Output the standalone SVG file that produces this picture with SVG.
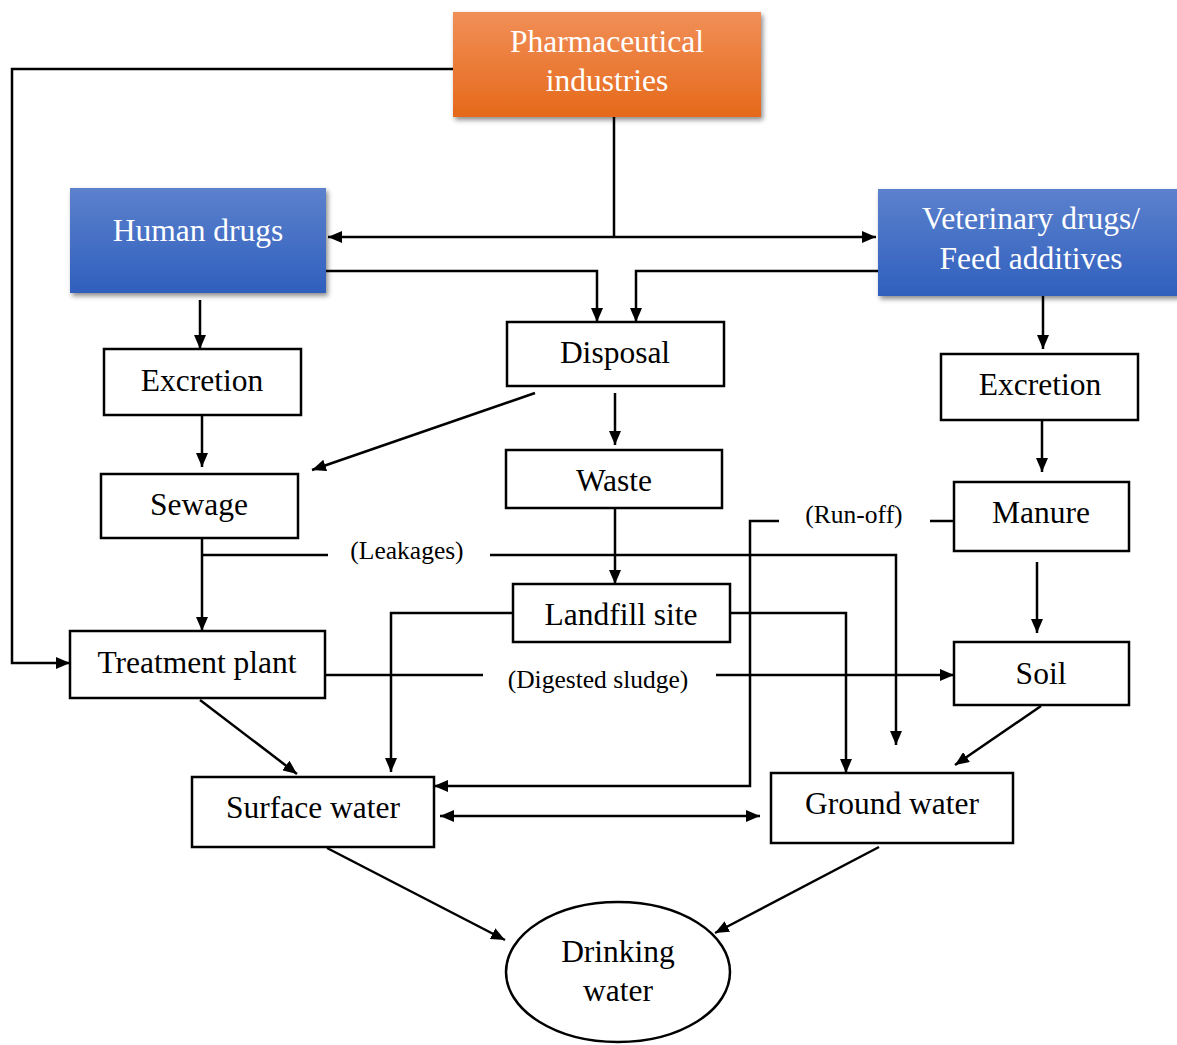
<svg xmlns="http://www.w3.org/2000/svg" width="1177" height="1045" viewBox="0 0 1177 1045">
<style>
.box{fill:#fff;stroke:#000;stroke-width:2.5}
.t{font-family:"Liberation Serif","Times New Roman",serif;font-size:31.5px;fill:#000;text-anchor:middle}
.w{fill:#fff}
.lbl{font-family:"Liberation Serif","Times New Roman",serif;font-size:25.5px;fill:#000;text-anchor:middle}
.c{fill:none;stroke:#000;stroke-width:2.5}
.a{marker-end:url(#arr)}
.d{marker-start:url(#arr);marker-end:url(#arr)}
</style>
<defs>
<marker id="arr" markerWidth="14" markerHeight="12" refX="14" refY="6" orient="auto-start-reverse" markerUnits="userSpaceOnUse"><path d="M0,0 L14,6 L0,12 z" fill="#000"/></marker>
<linearGradient id="og" x1="0" y1="0" x2="0" y2="1"><stop offset="0" stop-color="#F18F58"/><stop offset="1" stop-color="#E5691A"/></linearGradient>
<linearGradient id="bg" x1="0" y1="0" x2="0" y2="1"><stop offset="0" stop-color="#5C81CD"/><stop offset="1" stop-color="#2F5FBD"/></linearGradient>
<filter id="sh" x="-10%" y="-10%" width="125%" height="130%"><feDropShadow dx="2" dy="3" stdDeviation="2.5" flood-color="#000" flood-opacity="0.45"/></filter>
</defs>

<g id="connectors">
<path class="c a" d="M453,69 H12 V663 H70"/>
<path class="c d" d="M328,237 H876"/>
<path class="c" d="M614,117 V237"/>
<path class="c a" d="M326,271 H597 V322"/>
<path class="c a" d="M878,271 H636 V322"/>
<path class="c a" d="M200,300 V349"/>
<path class="c a" d="M202,415 V467"/>
<path class="c a" d="M535,393 L312,470"/>
<path class="c a" d="M615,393 V445"/>
<path class="c a" d="M202,538 V631"/>
<path class="c" d="M202,555 H328"/>
<path class="c a" d="M490,555 H896 V745"/>
<path class="c a" d="M615,508 V584"/>
<path class="c a" d="M513,613 H391 V772"/>
<path class="c a" d="M730,613 H846 V773"/>
<path class="c" d="M954,521 H930"/>
<path class="c a" d="M779,521 H750 V786 H434"/>
<path class="c a" d="M1043,296 V349"/>
<path class="c a" d="M1042,420 V472"/>
<path class="c a" d="M1037,562 V633"/>
<path class="c" d="M325,675 H483"/>
<path class="c a" d="M716,675 H954"/>
<path class="c a" d="M200,700 L297,774"/>
<path class="c a" d="M1041,706 L955,765"/>
<path class="c d" d="M440,816 H760"/>
<path class="c a" d="M327,848 L505,940"/>
<path class="c a" d="M879,847 L715,933"/>
<text class="lbl" x="407" y="559">(Leakages)</text>
<text class="lbl" x="854" y="523">(Run-off)</text>
<text class="lbl" x="598" y="688">(Digested sludge)</text>
</g>

<g id="pharma">
<rect x="453" y="12" width="308" height="105" fill="url(#og)" filter="url(#sh)"/>
<text class="t w" x="607" y="52">Pharmaceutical</text>
<text class="t w" x="607" y="91">industries</text>
</g>
<g id="human">
<rect x="70" y="188" width="256" height="105" fill="url(#bg)" filter="url(#sh)"/>
<text class="t w" x="198" y="241">Human drugs</text>
</g>
<g id="vet">
<rect x="878" y="189" width="302" height="107" fill="url(#bg)" filter="url(#sh)"/>
<text class="t w" x="1031" y="229">Veterinary drugs/</text>
<text class="t w" x="1031" y="269">Feed additives</text>
</g>
<g id="disposal">
<rect class="box" x="507" y="322" width="217" height="64"/>
<text class="t" x="615" y="363">Disposal</text>
</g>
<g id="excretion-left">
<rect class="box" x="104" y="349" width="197" height="66"/>
<text class="t" x="202" y="391">Excretion</text>
</g>
<g id="excretion-right">
<rect class="box" x="941" y="354" width="197" height="66"/>
<text class="t" x="1040" y="395">Excretion</text>
</g>
<g id="sewage">
<rect class="box" x="101" y="474" width="197" height="64"/>
<text class="t" x="199" y="515">Sewage</text>
</g>
<g id="waste">
<rect class="box" x="506" y="450" width="216" height="58"/>
<text class="t" x="614" y="491">Waste</text>
</g>
<g id="manure">
<rect class="box" x="954" y="482" width="175" height="69"/>
<text class="t" x="1041" y="523">Manure</text>
</g>
<g id="landfill">
<rect class="box" x="513" y="584" width="217" height="58"/>
<text class="t" x="621" y="625">Landfill site</text>
</g>
<g id="treatment">
<rect class="box" x="70" y="631" width="255" height="67"/>
<text class="t" x="197" y="673">Treatment plant</text>
</g>
<g id="soil">
<rect class="box" x="954" y="642" width="175" height="63"/>
<text class="t" x="1041" y="684">Soil</text>
</g>
<g id="surface">
<rect class="box" x="192" y="777" width="242" height="70"/>
<text class="t" x="313" y="818">Surface water</text>
</g>
<g id="ground">
<rect class="box" x="771" y="773" width="242" height="70"/>
<text class="t" x="892" y="814">Ground water</text>
</g>
<g id="drinking">
<ellipse class="box" cx="618" cy="972" rx="112" ry="70"/>
<text class="t" x="618" y="962">Drinking</text>
<text class="t" x="618" y="1001">water</text>
</g>
</svg>
